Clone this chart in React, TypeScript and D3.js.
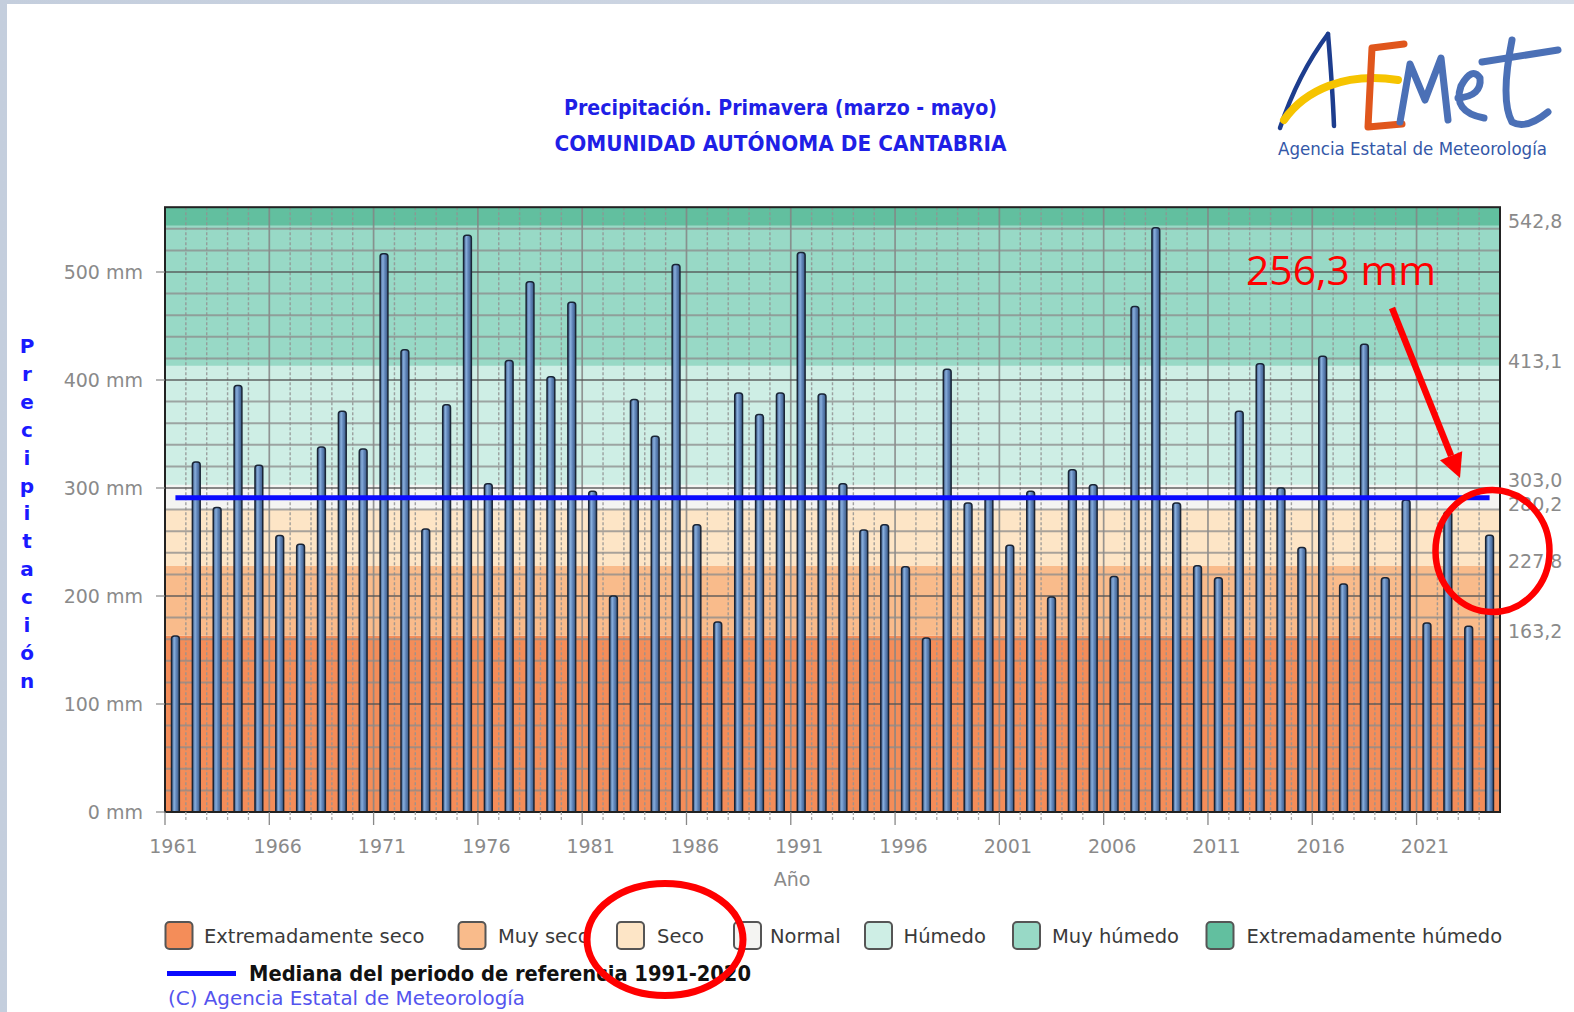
import React from "react";
import * as d3 from "d3";

const years = [
  1961, 1962, 1963, 1964, 1965, 1966, 1967, 1968, 1969, 1970,
  1971, 1972, 1973, 1974, 1975, 1976, 1977, 1978, 1979, 1980,
  1981, 1982, 1983, 1984, 1985, 1986, 1987, 1988, 1989, 1990,
  1991, 1992, 1993, 1994, 1995, 1996, 1997, 1998, 1999, 2000,
  2001, 2002, 2003, 2004, 2005, 2006, 2007, 2008, 2009, 2010,
  2011, 2012, 2013, 2014, 2015, 2016, 2017, 2018, 2019, 2020,
  2021, 2022, 2023, 2024,
];
const precip = [
  163, 324, 282, 395, 321, 256, 248, 338, 371, 336,
  517, 428, 262, 377, 534, 304, 418, 491, 403, 472,
  297, 200, 382, 348, 507, 266, 176, 388, 368, 388,
  518, 387, 304, 261, 266, 227, 161, 410, 286, 291,
  247, 297, 199, 317, 303, 218, 468, 541, 286, 228,
  217, 371, 415, 300, 245, 422, 211, 433, 217, 289,
  175, 278, 172, 256.3,
];
const median = 291;
const thresholds = [163.2, 227.8, 280.2, 303.0, 413.1, 542.8];
const thresholdLabels = ["163,2", "227,8", "280,2", "303,0", "413,1", "542,8"];
const categories = [
  "Extremadamente seco",
  "Muy seco",
  "Seco",
  "Normal",
  "Húmedo",
  "Muy húmedo",
  "Extremadamente húmedo",
];
const categoryColors = ["#f48d59", "#f9bb8b", "#fde5c6", "#f4f4f2", "#ceeee5", "#98d9c6", "#62bf9f"];
const yTicks = [0, 100, 200, 300, 400, 500];
const yTickLabels = ["0 mm", "100 mm", "200 mm", "300 mm", "400 mm", "500 mm"];
const xLabelYears = [1961, 1966, 1971, 1976, 1981, 1986, 1991, 1996, 2001, 2006, 2011, 2016, 2021];
const yMax = 560;
const axisTitleLetters = ["P", "r", "e", "c", "i", "p", "i", "t", "a", "c", "i", "ó", "n"];
const legendBoxX = [165.5, 458.5, 617, 734, 865, 1013, 1206.5];
const legendTextX = [204, 498, 657, 770, 903.5, 1052, 1246.5];

const X0 = 165, X1 = 1500, Y0 = 812, YT = 207.2;

export default function App() {
  const x = d3.scaleBand<number>().domain(years).range([X0, X1]).padding(0);
  const y = d3.scaleLinear().domain([0, yMax]).range([Y0, YT]);
  const bw = x.bandwidth();
  const bounds = [0, ...thresholds, yMax];
  const hGrid = d3.range(20, yMax, 20);
  const barW = 7.8;
  const sans = "'DejaVu Sans', Verdana, sans-serif";
  const narrow = "'DejaVu Sans Condensed', 'Liberation Sans Narrow', 'DejaVu Sans', sans-serif";

  const barPath = (cx: number, v: number) => {
    const l = cx - barW / 2, r = cx + barW / 2, t = y(v), rr = 2.8;
    return `M${l},${Y0} V${t + rr} Q${l},${t} ${l + rr},${t} H${r - rr} Q${r},${t} ${r},${t + rr} V${Y0} Z`;
  };

  const ax0 = 1392, ay0 = 308, ax1 = 1460, ay1 = 478;
  const len = Math.hypot(ax1 - ax0, ay1 - ay0);
  const ux = (ax1 - ax0) / len, uy = (ay1 - ay0) / len;
  const nx = uy, ny = -ux;
  const hl = 24, hw = 12;
  const bx = ax1 - hl * ux, by = ay1 - hl * uy;

  return (
    <svg width={1574} height={1012} style={{ position: "absolute", left: 0, top: 0 }} xmlns="http://www.w3.org/2000/svg">
      <defs>
        <linearGradient id="barG" x1="0" x2="1" y1="0" y2="0">
          <stop offset="0" stopColor="#3a5782" />
          <stop offset="0.35" stopColor="#88aedc" />
          <stop offset="0.6" stopColor="#6186ba" />
          <stop offset="1" stopColor="#3a5782" />
        </linearGradient>
        <linearGradient id="bgG" x1="0" x2="1" y1="0" y2="0">
          <stop offset="0" stopColor="#c4cedd" />
          <stop offset="1" stopColor="#d6dde8" />
        </linearGradient>
      </defs>
      <rect x={0} y={0} width={1574} height={1012} fill="url(#bgG)" />
      <rect x={7} y={4} width={1567} height={1008} fill="#ffffff" />

      {/* Titles */}
      <text x={780.5} y={115} textAnchor="middle" fontFamily={narrow} fontWeight="bold" fontSize={21.5} fill="#1f1fe6" textLength={433} lengthAdjust="spacingAndGlyphs">
        Precipitación. Primavera (marzo - mayo)
      </text>
      <text x={780.5} y={150.5} textAnchor="middle" fontFamily={narrow} fontWeight="bold" fontSize={21.5} fill="#1f1fe6" textLength={452} lengthAdjust="spacingAndGlyphs">
        COMUNIDAD AUTÓNOMA DE CANTABRIA
      </text>

      {/* Logo */}
      <g fill="none" strokeLinecap="round" strokeLinejoin="round">
        <path d="M1280,128 C1292,92 1310,58 1328,34" stroke="#1d3d8e" strokeWidth={4.5} />
        <path d="M1328,34 C1331,70 1333,100 1334,126" stroke="#1d3d8e" strokeWidth={4.5} />
        <path d="M1284,120 C1305,90 1345,72 1398,80" stroke="#f6c400" strokeWidth={8} />
        <path d="M1404,44 L1372,48 L1368,127 L1402,124" stroke="#e0561c" strokeWidth={7} />
        <path d="M1400,122 L1410,64 L1425,100 L1441,58 L1448,120" stroke="#4b70b6" strokeWidth={7} />
        <path d="M1458,98 Q1482,96 1480,78 Q1472,66 1461,86 Q1452,112 1484,118" stroke="#4b70b6" strokeWidth={7} />
        <path d="M1482,62 L1558,50" stroke="#4b70b6" strokeWidth={7} />
        <path d="M1512,40 Q1500,100 1512,122 Q1526,130 1548,112" stroke="#4b70b6" strokeWidth={7} />
      </g>
      <text x={1278} y={155} fontFamily={narrow} fontSize={17} fill="#3458a8" textLength={269} lengthAdjust="spacingAndGlyphs">
        Agencia Estatal de Meteorología
      </text>

      {/* Category bands */}
      {categories.map((c, i) => (
        <rect key={c} x={X0} width={X1 - X0} y={y(bounds[i + 1])} height={y(bounds[i]) - y(bounds[i + 1])} fill={categoryColors[i]} />
      ))}

      {/* Grid */}
      {years.slice(1).map((yr) => {
        const major = (yr - 1961) % 5 === 0;
        return (
          <line key={"v" + yr} x1={x(yr)} x2={x(yr)} y1={YT} y2={Y0}
            stroke={major ? "#858585" : "#939393"} strokeWidth={major ? 1.7 : 1.4}
            strokeDasharray={major ? undefined : "3,2"} opacity={0.85} />
        );
      })}
      {hGrid.map((v) => (
        <line key={"h" + v} x1={X0} x2={X1} y1={y(v)} y2={y(v)}
          stroke={v % 100 === 0 ? "#555" : "#8c8c8c"} strokeWidth={v % 100 === 0 ? 1.6 : 2} opacity={v % 100 === 0 ? 0.9 : 0.75} />
      ))}

      {/* Bars */}
      {years.map((yr, i) => (
        <path key={"b" + yr} d={barPath((x(yr) as number) + bw / 2, precip[i])} fill="url(#barG)" stroke="#1a2536" strokeWidth={1.5} />
      ))}

      {/* Median line */}
      <line x1={(x(years[0]) as number) + bw / 2} x2={(x(years[years.length - 1]) as number) + bw / 2}
        y1={y(median)} y2={y(median)} stroke="#0a0aff" strokeWidth={5} />

      {/* Plot frame */}
      <rect x={X0} y={YT} width={X1 - X0} height={Y0 - YT} fill="none" stroke="#222" strokeWidth={2} />

      {/* Left axis */}
      {yTicks.map((v, i) => (
        <g key={"yt" + v}>
          <line x1={156} x2={X0} y1={y(v)} y2={y(v)} stroke="#888" strokeWidth={1.2} />
          <text x={143} y={y(v) + 7} textAnchor="end" fontFamily={sans} fontSize={19} fill="#8a8a8a">{yTickLabels[i]}</text>
        </g>
      ))}
      {axisTitleLetters.map((ch, i) => (
        <text key={"at" + i} x={27} y={353 + i * 27.9} textAnchor="middle" fontFamily={sans} fontWeight="bold" fontSize={20} fill="#1a1aff">{ch}</text>
      ))}

      {/* Right threshold labels */}
      {thresholds.map((t, i) => (
        <text key={"rl" + i} x={1508} y={y(t) + 2} fontFamily={sans} fontSize={19} fill="#8a8a8a">{thresholdLabels[i]}</text>
      ))}

      {/* Bottom axis */}
      {years.map((yr) => {
        const major = (yr - 1961) % 5 === 0;
        const xx = x(yr) as number;
        return (
          <line key={"xt" + yr} x1={xx} x2={xx} y1={Y0} y2={Y0 + (major ? 13 : 9)}
            stroke={major ? "#888" : "#aaa"} strokeWidth={1.3} strokeDasharray={major ? undefined : "3,2"} />
        );
      })}
      {xLabelYears.map((yr) => (
        <text key={"xl" + yr} x={(x(yr) as number) + bw / 2 - 2} y={853} textAnchor="middle" fontFamily={sans} fontSize={19} fill="#8a8a8a">{yr}</text>
      ))}
      <text x={792} y={886} textAnchor="middle" fontFamily={sans} fontSize={19} fill="#8a8a8a">Año</text>

      {/* Legend */}
      {categories.map((c, i) => (
        <g key={"lg" + c}>
          <rect x={legendBoxX[i]} y={922} width={27} height={27} rx={4} fill={categoryColors[i]} stroke="#555" strokeWidth={2} />
          <text x={legendTextX[i]} y={943} fontFamily={sans} fontSize={19.5} fill="#3a3a3a">{c}</text>
        </g>
      ))}
      <line x1={167} x2={236} y1={973.5} y2={973.5} stroke="#0a0aff" strokeWidth={5} />
      <text x={249} y={981} fontFamily={narrow} fontWeight="bold" fontSize={22} fill="#111" textLength={502} lengthAdjust="spacingAndGlyphs">
        Mediana del periodo de referencia 1991-2020
      </text>
      <text x={168} y={1005} fontFamily={narrow} fontSize={19} fill="#5454ee" textLength={357} lengthAdjust="spacingAndGlyphs">
        (C) Agencia Estatal de Meteorología
      </text>

      {/* Red annotations */}
      <text x={1246} y={285} fontFamily="'Open Sans', 'Liberation Sans', sans-serif" fontSize={40} fill="#ff0000" textLength={190} lengthAdjust="spacingAndGlyphs">
        256,3 mm
      </text>
      <line x1={ax0} y1={ay0} x2={bx} y2={by} stroke="#ff0000" strokeWidth={6.5} />
      <polygon points={`${ax1},${ay1} ${bx + hw * nx},${by + hw * ny} ${bx - hw * nx},${by - hw * ny}`} fill="#ff0000" />
      <ellipse cx={1492.5} cy={551} rx={57} ry={61} fill="none" stroke="#ff0000" strokeWidth={6.5} />
      <ellipse cx={665} cy={939.5} rx={78} ry={56} fill="none" stroke="#ff0000" strokeWidth={7} />
    </svg>
  );
}
